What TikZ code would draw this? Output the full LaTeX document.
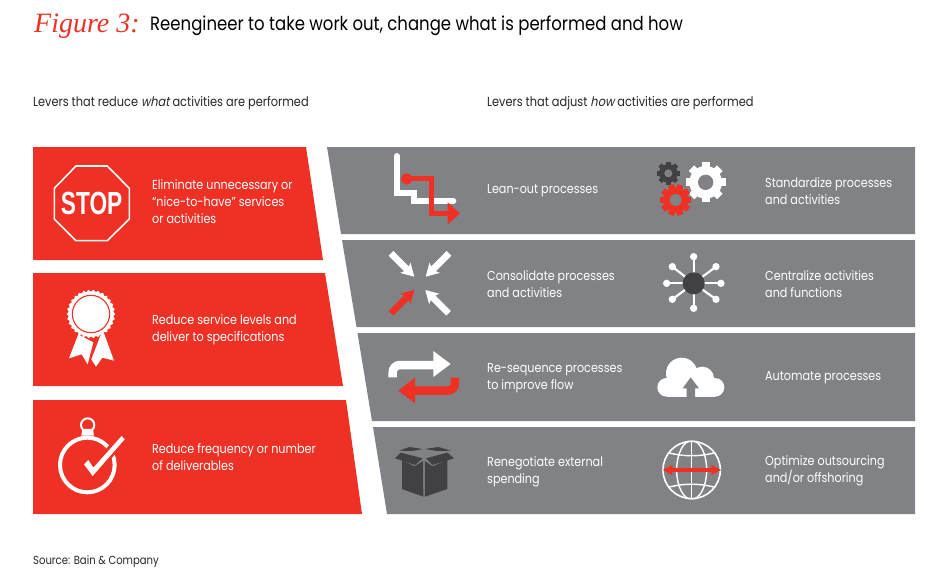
\documentclass[tikz,border=0pt]{standalone}
\usepackage{fontspec}
\setmainfont{Poppins}[FakeStretch=0.86]
\newfontfamily\slantfont{Poppins}[FakeStretch=0.86,FakeSlant=0.2]
\newfontfamily\handfont{Liberation Serif}[Ligatures=TeX]
\newfontfamily\stopfont{Liberation Sans}
\definecolor{bred}{HTML}{EE3124}
\definecolor{bgray}{HTML}{808285}
\definecolor{bdark}{HTML}{414042}
\tikzset{
  redpanel/.style={fill=bred,draw=none},
  graypanel/.style={fill=bgray,draw=none},
  lever/.style={anchor=west,align=left,inner sep=0pt,text=white,font=\fontsize{13}{17}\selectfont},
  head/.style={anchor=west,inner sep=0pt,text=black!85,font=\fontsize{13.2}{15}\selectfont},
  zoomA/.style={shift={(#1)},x=0.3333pt,y=-0.3333pt},
}
\newcommand{\arrowic}[4]{%
  \begin{scope}[shift={(#2,#3)},rotate=#4]
    \fill[#1] (0,0)--(12.7,7.3)--(11,3.3)--(33,3.3)--(33,-3.3)--(11,-3.3)--(12.7,-7.3)--cycle;
  \end{scope}}
\newcommand{\gearic}[7]{% x y bodyr outerr holer teeth colour
  \fill[#7] (#1,#2) circle (#3);
  \pgfmathsetmacro{\gstep}{360/#6}
  \foreach \k in {1,...,#6}{
    \draw[#7,line width=#4*0.13pt,line cap=butt] (#1,#2) -- ++({\k*\gstep}:#4);
  }
  \fill[bgray] (#1,#2) circle (#5);}
\begin{document}
\begin{tikzpicture}[x=1pt,y=-1pt]
\useasboundingbox (0,0) rectangle (950,581);
\fill[white] (0,0) rectangle (950,581);
% panels
\fill[redpanel] (33,147)--(306,147)--(323,260)--(33,260)--cycle;
\fill[redpanel] (33,273)--(325,273)--(343,386)--(33,386)--cycle;
\fill[redpanel] (33,400)--(346,400)--(362,514)--(33,514)--cycle;
\fill[graypanel] (327,147)--(915,147)--(915,234)--(341,234)--cycle;
\fill[graypanel] (342,240)--(915,240)--(915,327)--(356.5,327)--cycle;
\fill[graypanel] (357.5,333)--(915,333)--(915,421)--(372,421)--cycle;
\fill[graypanel] (373,427)--(915,427)--(915,514)--(387,514)--cycle;
% titles
\node[anchor=west,inner sep=0pt,text=bred,font=\handfont\itshape\fontsize{28}{30}\selectfont] (figlabel) at (34,26) {Figure 3:};
\node[anchor=west,inner sep=0pt,text=black,font=\fontsize{19.2}{22}\selectfont] (title) at (150,26) {Reengineer to take work out, change what is performed and how};
\node[head] (headl) at (33,103) {Levers that reduce {\slantfont what} activities are performed};
\node[head] (headr) at (487,103) {Levers that adjust {\slantfont how} activities are performed};
\node[head,font=\fontsize{11.7}{14}\selectfont] (source) at (33,562) {Source: Bain \& Company};
% red texts
\node[lever] (t1) at (152,202) {Eliminate unnecessary or\\“nice-to-have” services\\or activities};
\node[lever] (t2) at (152,329.5) {Reduce service levels and\\deliver to specifications};
\node[lever] (t3) at (152,457.5) {Reduce frequency or number\\of deliverables};
% gray texts
\node[lever] (g1) at (487,190.5) {Lean-out processes};
\node[lever] (g2) at (487,284.5) {Consolidate processes\\and activities};
\node[lever] (g3) at (487,378.5) {Re-sequence processes\\to improve flow};
\node[lever] (g4) at (487,471.5) {Renegotiate external\\spending};
\node[lever] (g5) at (765,191.5) {Standardize processes\\and activities};
\node[lever] (g6) at (765,284.5) {Centralize activities\\and functions};
\node[lever] (g7) at (765,377.5) {Automate processes};
\node[lever] (g8) at (765,470.5) {Optimize outsourcing\\and/or offshoring};
% stop sign
\begin{scope}[zoomA={20,0}]
  \draw[white,line width=1.6pt] (168,498)--(262,498)--(328,565)--(328,657)--(262,722)--(168,722)--(103,657)--(103,565)--cycle;
  \node[inner sep=0pt,text=white] (stoptxt) at (215,610) {\scalebox{.71}[1]{\stopfont\bfseries\fontsize{32}{32}\selectfont STOP}};
\end{scope}
% rosette
\begin{scope}[zoomA={20,265}]
  \fill[white] (175,208)--(147,280)--(185,268)--(203,298)--(220,232)--cycle;
  \fill[white] (243,208)--(214,283)--(228,305)--(247,278)--(282,287)--(252,205)--cycle;
  \begin{scope}[shift={(213,147)}]
    \fill[white] (0,0) circle (66);
    \foreach \a in {0,12,...,348} \fill[white] (\a:73)--(\a+10:64)--(\a-10:64)--cycle;
    \draw[bred,line width=1.1pt] (0,0) circle (56);
  \end{scope}
\end{scope}
% stopwatch
\begin{scope}[zoomA={20,265}]
  \draw[white,line width=4pt] (202,600) circle (82);
  \draw[white,line width=2pt] (203,480) circle (20);
  \fill[white] (187,492)--(219,492)--(222,512)--(184,512)--cycle;
  \fill[bred] (183,598)--(205,572)--(221,594)--(302,502)--(324,523)--(218,645)--cycle;
  \fill[white] (192,598)--(205,585)--(220,608)--(305,513)--(314,523)--(218,633)--cycle;
\end{scope}
% lean-out icon
\begin{scope}[zoomA={370,140}]
  \draw[white,line width=6pt,line cap=round,line join=miter] (80,48)--(80,160)--(133,160)--(133,183)--(250,183);
  \draw[bred,line width=5pt] (110,117)--(185,117)--(185,220)--(240,220);
  \fill[bred] (110,117) circle (17);
  \fill[bred] (233,187)--(270,220)--(233,254)--cycle;
\end{scope}
% consolidate
\arrowic{white}{414.3}{276.7}{135}
\arrowic{white}{425.7}{276.7}{45}
\arrowic{bred}{414.3}{290}{225}
\arrowic{white}{425.3}{290}{-45}
% resequence
\begin{scope}[zoomA={370,335}]
  \draw[white,line width=8.5pt] (68,127)--(68,112) arc[start angle=180,end angle=90,x radius=22,y radius=-22]--(195,90);
  \fill[white] (190,48)--(242,87)--(190,126)--cycle;
  \draw[bred,line width=8.5pt] (255,128)--(255,145) arc[start angle=0,end angle=-90,x radius=22,y radius=-22]--(130,167);
  \fill[bred] (135,128)--(85,167)--(135,205)--cycle;
\end{scope}
% box
\begin{scope}[zoomA={370,335}]
  \fill[bdark] (88,347)--(118,336)--(158,342)--(128,348)--cycle;
  \fill[bdark] (165,342)--(205,336)--(243,347)--(200,348)--cycle;
  \fill[bdark] (75,370)--(92,353)--(158,370)--(135,390)--cycle;
  \fill[bdark] (168,370)--(232,353)--(252,370)--(188,390)--cycle;
  \fill[bdark] (96,375)--(133,394)--(159,378)--(160,485)--(96,462)--cycle;
  \fill[bdark] (165,378)--(188,394)--(232,375)--(232,462)--(165,485)--cycle;
\end{scope}
% gears
\begin{scope}[zoomA={640,145}]
  \gearic{197}{112}{49}{60}{23}{8}{white}
  \gearic{107}{165}{38}{47}{18}{10}{bred}
  \gearic{85}{85}{28}{35}{12}{8}{bdark}
\end{scope}
% hub
\begin{scope}[zoomA={640,145}]
  \foreach \px/\py in {161/335,97/365,228/365,80/415,243/415,97/463,228/463,161/490}{
    \draw[white,line width=2.2pt] (161,415)--(\px,\py);
    \fill[white] (\px,\py) circle (11);
  }
  \fill[bdark] (161,415) circle (33);
\end{scope}
% cloud
\begin{scope}[zoomA={640,335}]
  \fill[white] (80,157) circle (28) (125,115) circle (47) (187,130) circle (35) (225,157) circle (28);
  \fill[white] (80,130) rectangle (225,185);
  \fill[bgray] (152,127)--(177,160)--(165,160)--(165,190)--(140,190)--(140,160)--(128,160)--cycle;
\end{scope}
% globe
\begin{scope}[zoomA={640,335}]
  \begin{scope}
    \clip (155,405) circle (88);
    \draw[white,line width=1.4pt] (155,317)--(155,493);
    \draw[white,line width=1.4pt] (155,405) ellipse[x radius=45,y radius=88];
    \draw[white,line width=1.4pt] (60,345) .. controls (120,368) and (190,368) .. (250,345);
    \draw[white,line width=1.4pt] (60,465) .. controls (120,442) and (190,442) .. (250,465);
  \end{scope}
  \draw[white,line width=1.6pt] (155,405) circle (86);
  \draw[bred,line width=3.6pt] (90,405)--(222,405);
  \fill[bred] (68,405)--(97,390)--(97,420)--cycle;
  \fill[bred] (243,405)--(214,390)--(214,420)--cycle;
\end{scope}
\end{tikzpicture}
\end{document}
